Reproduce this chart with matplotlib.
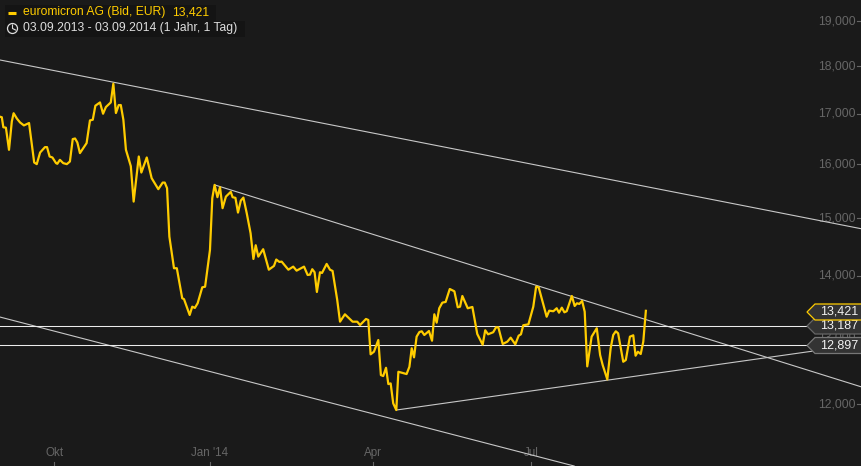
import matplotlib
matplotlib.use("Agg")
import matplotlib.pyplot as plt
from matplotlib.patches import Polygon, Rectangle, Circle
from matplotlib.lines import Line2D
from matplotlib.transforms import IdentityTransform

# trading day index since 03.09.2013 and bid price
days = [0, 0.7, 1.3, 2.3, 3.5, 4.6, 5.3, 6.6, 7.8, 9.3, 11.3, 13.3, 14.3, 15.6, 17.5, 18.3, 19.3, 20.4, 21.8, 22.3,
        23.3, 24.6, 26.0, 27.2, 28.3, 29.2, 30.1, 31.1, 32.4, 33.7, 35.0, 36.1, 37.1, 38.9, 40.1, 41.2, 43.1, 44.1, 45.1, 46.2,
        47.0, 48.0, 49.0, 50.9, 52.0, 54.0, 55.0, 57.1, 59.0, 61.6, 63.3, 64.1, 65.0, 65.9, 67.7, 68.8, 70.9, 71.6, 73.8, 74.8,
        75.8, 76.9, 78.7, 79.8, 81.7, 82.6, 83.5, 84.6, 85.6, 86.6, 87.9, 89.8, 90.5, 91.6, 92.6, 93.7, 94.7, 96.0, 97.5, 98.6,
        99.5, 100.5, 102.4, 104.6, 106.6, 107.5, 108.7, 109.6, 112.2, 114.1, 115.4, 118.3, 119.7, 120.6, 121.5, 122.4, 123.3, 124.5, 125.3, 127.1,
        128.4, 129.4, 131.2, 132.3, 134.2, 137.2, 139.0, 140.1, 142.4, 143.3, 144.2, 145.5, 147.2, 148.2, 149.1, 150.2, 151.1, 152.0, 153.0, 154.2,
        155.0, 158.2, 159.3, 160.2, 161.1, 162.1, 163.2, 164.1, 165.1, 166.9, 168.1, 169.0, 169.9, 170.9, 172.1, 173.4, 175.0, 176.8, 178.1, 179.0,
        179.9, 182.0, 183.8, 185.7, 187.8, 188.8, 189.9, 191.9, 193.0, 193.9, 195.6, 197.4, 198.7, 200.5, 201.8, 202.7, 203.6, 205.6, 207.5, 208.6,
        209.6, 212.7, 213.7, 215.3, 216.6, 217.5, 218.6, 219.6, 220.5, 222.5, 223.6, 224.5, 225.4, 226.5, 227.5, 228.5, 230.2, 232.2, 233.5, 234.5,
        236.3, 237.6, 238.6, 239.6, 240.5, 242.5, 243.5, 245.1, 246.4, 247.3, 248.2, 249.3, 250.3, 251.3]
prices = [16.942, 16.932, 16.730, 16.720, 16.282, 16.847, 17.013, 16.902, 16.826, 16.766, 16.814, 16.036, 16.005, 16.229, 16.335, 16.335, 16.152, 16.133, 16.024, 16.011,
          16.088, 16.024, 16.005, 16.055, 16.493, 16.505, 16.426, 16.218, 16.315, 16.414, 16.867, 16.881, 17.167, 17.235, 17.003, 17.140, 17.235, 17.627, 17.017, 17.181,
          17.181, 16.881, 16.282, 15.965, 15.301, 16.152, 15.844, 16.133, 15.738, 15.531, 15.654, 15.654, 15.550, 14.671, 14.125, 14.125, 13.625, 13.610, 13.354, 13.488,
          13.467, 13.543, 13.805, 13.815, 14.439, 15.364, 15.611, 15.382, 15.568, 15.181, 15.393, 15.481, 15.382, 15.370, 15.101, 15.320, 15.375, 15.090, 14.731, 14.283,
          14.520, 14.323, 14.451, 14.100, 14.164, 14.273, 14.232, 14.237, 14.100, 14.152, 14.084, 14.152, 14.011, 14.016, 14.108, 14.057, 13.728, 14.057, 14.045, 14.198,
          14.100, 14.079, 13.600, 13.247, 13.365, 13.247, 13.247, 13.194, 13.290, 13.274, 12.738, 12.778, 12.959, 12.425, 12.410, 12.534, 12.291, 12.301, 12.010, 11.914,
          12.474, 12.440, 12.549, 12.831, 12.692, 13.011, 13.084, 13.095, 13.037, 13.100, 12.948, 13.365, 13.231, 13.462, 13.553, 13.565, 13.777, 13.739, 13.478, 13.488,
          13.662, 13.462, 13.483, 13.053, 12.886, 13.111, 13.048, 13.080, 13.158, 13.158, 12.897, 12.933, 12.995, 12.892, 13.026, 13.048, 13.190, 13.205, 13.488, 13.815,
          13.805, 13.326, 13.423, 13.414, 13.462, 13.391, 13.472, 13.397, 13.414, 13.662, 13.499, 13.543, 13.532, 13.581, 13.407, 12.555, 13.011, 13.143, 12.728, 12.575,
          12.361, 12.831, 13.037, 13.095, 13.064, 12.625, 12.651, 13.011, 13.032, 12.717, 12.778, 12.743, 12.933, 13.421]

# trend lines: (day, price) end points
trend_days = [[0, 335.4], [83.5, 335.4], [0, 223.4], [154.2, 316.4]]
trend_prices = [[18.136, 14.808], [15.611, 12.247], [13.321, 11.140], [11.914, 12.788]]
level_prices = [13.176, 12.886]
level_labels = ["13,187", "12,897"]
last_label = "13,421"

y_ticks = [12, 13, 14, 15, 16, 17, 18, 19]
y_labels = ["12,000", "13,000", "14,000", "15,000", "16,000", "17,000", "18,000", "19,000"]
x_ticks = [21.2, 81.7, 145.1, 206.6]
x_labels = ["Okt", "Jan '14", "Apr", "Jul"]

BG = "#1a1a1a"
YEL = "#ffcc00"
GREY = "#666666"
W, H = 862, 466

plt.rcParams['font.family'] = ['Liberation Sans', 'DejaVu Sans']

fig = plt.figure(figsize=(W / 100, H / 100), dpi=100, facecolor=BG)
ax = fig.add_axes([0, 0, 1, 1], facecolor=BG)
ax.set_yscale("log")
ax.set_xlim(0, 335.4)
ax.set_ylim(11.14, 19.49)
ax.axis("off")


def fx(px):
    return px / W


def fy(py):
    return 1 - py / H


for tx, ty in zip(trend_days, trend_prices):
    ax.plot(tx, ty, color="#c8c8c8", lw=0.8, zorder=2)
for p in level_prices:
    ax.plot([0, 314], [p, p], color="#ececec", lw=0.75, zorder=2)
ax.plot(days, prices, color=YEL, lw=1.6, zorder=3, solid_joinstyle="round")

# axis labels
trans = ax.get_yaxis_transform()
for t, lab in zip(y_ticks, y_labels):
    ax.text(fx(856), t, lab, transform=trans, color=GREY, fontsize=8.8, ha="right", va="center", zorder=1)
    ax.plot([fx(857), fx(861)], [t, t], transform=trans, color=GREY, lw=0.8, zorder=1)
trans = ax.get_xaxis_transform()
for t, lab in zip(x_ticks, x_labels):
    ax.text(t, fy(453), lab, transform=trans, color=GREY, fontsize=8.4, ha="center", va="center", zorder=1)
    ax.plot([t, t], [fy(462), 0], transform=trans, color=GREY, lw=0.8, zorder=1)


# price tags on the right
def tag(yc, label, edge, z):
    pts = [(fx(807), fy(yc)), (fx(815), fy(yc - 8)), (fx(863), fy(yc - 8)),
           (fx(863), fy(yc + 8)), (fx(815), fy(yc + 8))]
    fig.add_artist(Polygon(pts, closed=True, transform=fig.transFigure, facecolor="#333333",
                           edgecolor=edge, lw=0.9, zorder=z))
    fig.text(fx(858), fy(yc), label, color="#f2f2f2", fontsize=9, ha="right", va="center", zorder=z + 0.1)


tag(326, level_labels[0], "#666666", 5)
tag(345.5, level_labels[1], "#777777", 6)
tag(312, last_label, YEL, 7)

# header
fig.add_artist(Rectangle((fx(5), fy(21)), 211 / W, 16 / H, transform=fig.transFigure, facecolor="#141414", lw=0, zorder=5))
fig.add_artist(Rectangle((fx(5), fy(37)), 240 / W, 16 / H, transform=fig.transFigure, facecolor="#141414", lw=0, zorder=5))
fig.add_artist(Line2D([fx(8), fx(16)], [fy(13), fy(13)], color=YEL, lw=2.2, zorder=6, solid_capstyle="butt"))
fig.text(fx(23.5), fy(12.5), "euromicron AG (Bid, EUR)", color=YEL, fontsize=8.7, va="center", zorder=6)
fig.text(fx(172), fy(12.5), "13,421", color=YEL, fontsize=8.7, va="center", zorder=6)
fig.text(fx(23.5), fy(28.5), "03.09.2013 - 03.09.2014 (1 Jahr, 1 Tag)", color="#dddddd", fontsize=8.7, va="center", zorder=6)

# clock icon
fig.add_artist(Circle((12.5, H - 28.5), 5, transform=IdentityTransform(), fill=False, ec="#dddddd", lw=0.9, zorder=6))
fig.add_artist(Line2D([fx(12.5), fx(12.5), fx(15.5)], [fy(25), fy(28.5), fy(30)], color="#dddddd", lw=0.8, zorder=7))

fig.savefig("out.png", dpi=100, facecolor=BG)
